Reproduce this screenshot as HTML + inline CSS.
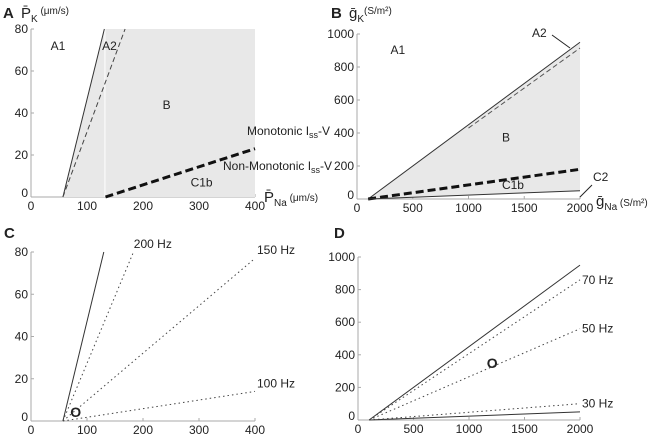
<!DOCTYPE html>
<html><head><meta charset="utf-8"><style>
body{margin:0;background:#fff;width:656px;height:435px;overflow:hidden}
svg{font-family:"Liberation Sans",Arial,sans-serif}
text{fill:#222}
</style></head><body>
<svg id="fig" width="656" height="435"></svg>
<script>
const xTicksA=[0,100,200,300,400], yTicksA=[0,20,40,60,80];
const xTicksB=[0,500,1000,1500,2000], yTicksB=[0,200,400,600,800,1000];
const aSolid=[[57,0],[131,80]], aDash=[[57,0],[168,80]], aThick=[[133,0],[400,23]];
const bUpper=[[100,0],[2000,950]], bDash=[[1000,430],[2000,915]], bThick=[[100,0],[2000,180]], bLower=[[100,0],[2000,50]];
const cSolid=[[57,0],[130,80]];
const cLabels=["200 Hz","150 Hz","100 Hz"];
const cEnds=[[183,80],[400,77],[400,14]];
const dLabels=["70 Hz","50 Hz","30 Hz"];
const dEnds=[[2000,860],[2000,560],[2000,100]];
const dSolid=[[100,0],[2000,950]], dLower=[[100,0],[2000,50]];

const NS="http://www.w3.org/2000/svg", svg=document.getElementById('fig');
function el(tag,attrs,parent,txt){const e=document.createElementNS(NS,tag);for(const k in attrs)e.setAttribute(k,attrs[k]);if(txt!==undefined)e.textContent=txt;(parent||svg).appendChild(e);return e;}
function panel(name,px0,px1,py0,py1,xmax,ymax,xt,yt){
  const g=el('g',{},svg);
  
  
  const sx=v=>px0+(px1-px0)*v/xmax, sy=v=>py0-(py0-py1)*v/ymax;
  const ax=el('g',{},g);
  
  
  el('line',{x1:px0,y1:py0,x2:px1,y2:py0,stroke:'#aaa','stroke-width':1},ax);
  el('line',{x1:px0,y1:py0,x2:px0,y2:py1,stroke:'#aaa','stroke-width':1},ax);
  xt.forEach(v=>{el('line',{x1:sx(v),y1:py0,x2:sx(v),y2:py0-3,stroke:'#aaa'},ax);
    const t=el('text',{x:sx(v),y:py0+13,'text-anchor':'middle','font-size':12},ax,v);
    
    });
  yt.forEach(v=>{el('line',{x1:px0,y1:sy(v),x2:px0+3,y2:sy(v),stroke:'#aaa'},ax);
    const t=el('text',{x:px0-3,y:sy(v)+(v===0?0:4),'text-anchor':'end','font-size':12},ax,v);
    
    });
  return {g,sx,sy};
}
function line(P,pts,st,nm){const l=el('line',Object.assign({x1:P.sx(pts[0][0]),y1:P.sy(pts[0][1]),x2:P.sx(pts[1][0]),y2:P.sy(pts[1][1])},st),P.g);
  
  return l;}
function txt(P,x,y,s,nm,extra){const t=el('text',Object.assign({x:P.sx(x),y:P.sy(y),'font-size':12},extra||{}),P.g,s);
  
  return t;}

// Panel A
const A=panel('panel-a',31,255,197,29,400,80,xTicksA,yTicksA);
const fa=el('polygon',{points:[[A.sx(aSolid[0][0]),A.sy(0)],[A.sx(aSolid[1][0]),A.sy(80)],[A.sx(400),A.sy(80)],[A.sx(400),A.sy(0)]].join(' '),fill:'#e8e8e8'},A.g);


A.g.insertBefore(fa,A.g.children[1]);
line(A,[[132,0],[132,80]],{stroke:'#fff','stroke-width':1},'region-divider');
line(A,aSolid,{stroke:'#333','stroke-width':1},'a1-boundary');
line(A,aDash,{stroke:'#444','stroke-width':1,'stroke-dasharray':'5,3'},'a2-boundary');
line(A,aThick,{stroke:'#111','stroke-width':3,'stroke-dasharray':'8,4'},'monotonic-boundary');
txt(A,35,70,'A1','label-a1');txt(A,127,70,'A2','label-a2');txt(A,235,42,'B','label-b');txt(A,285,5,'C1b','label-c1b');
el('text',{x:247,y:135,'font-size':12,'text-anchor':'start'},A.g).innerHTML='Monotonic I<tspan font-size="9" dy="3">ss</tspan><tspan dy="-3">-V</tspan>';
el('text',{x:223,y:170,'font-size':12},A.g).innerHTML='Non-Monotonic I<tspan font-size="9" dy="3">ss</tspan><tspan dy="-3">-V</tspan>';
el('text',{x:3,y:18,'font-size':15,'font-weight':'bold'},svg,'A');
el('text',{x:21,y:18,'font-size':15},svg).innerHTML='P̄<tspan font-size="10" dy="4">K</tspan><tspan font-size="10" dy="-8"> (μm/s)</tspan>';
el('text',{x:264,y:202,'font-size':15},svg).innerHTML='P̄<tspan font-size="10" dy="4">Na</tspan><tspan font-size="10" dy="-5"> (μm/s)</tspan>';

// Panel B
const B=panel('panel-b',357,580,199,34,2000,1000,xTicksB,yTicksB);
const fb=el('polygon',{points:[[B.sx(100),B.sy(0)],[B.sx(2000),B.sy(950)],[B.sx(2000),B.sy(50)]].join(' '),fill:'#e8e8e8'},B.g);


B.g.insertBefore(fb,B.g.children[1]);
line(B,bUpper,{stroke:'#333','stroke-width':1},'a1-boundary');
line(B,bDash,{stroke:'#555','stroke-width':1,'stroke-dasharray':'5,3'},'a2-boundary');
line(B,bThick,{stroke:'#111','stroke-width':3,'stroke-dasharray':'8,4'},'monotonic-boundary');
line(B,bLower,{stroke:'#333','stroke-width':1},'c2-boundary');
txt(B,300,880,'A1','label-a1');txt(B,1300,350,'B','label-b');txt(B,1300,60,'C1b','label-c1b');
el('text',{x:532,y:37,'font-size':12},svg,'A2');
el('line',{x1:552,y1:35,x2:570,y2:48,stroke:'#222'},svg);
el('text',{x:593,y:181,'font-size':12},svg,'C2');
el('line',{x1:592,y1:185,x2:580,y2:197,stroke:'#222'},svg);
el('text',{x:331,y:18,'font-size':15,'font-weight':'bold'},svg,'B');
el('text',{x:349,y:18,'font-size':15},svg).innerHTML='ḡ<tspan font-size="10" dy="4">K</tspan><tspan font-size="10" dy="-8">(S/m²)</tspan>';
el('text',{x:596,y:206,'font-size':15},svg).innerHTML='ḡ<tspan font-size="10" dy="4">Na</tspan><tspan font-size="10" dy="-4"> (S/m²)</tspan>';

// Panel C
const C=panel('panel-c',31,255,421,252,400,80,xTicksA,yTicksA);
line(C,cSolid,{stroke:'#333','stroke-width':1},'boundary-line');
cEnds.forEach((e,i)=>{line(C,[[57,0],e],{stroke:'#444','stroke-width':1,'stroke-dasharray':'1.5,3'},'freq-line');
  txt(C,e[0]+(i===0?-3:0),e[1]-(i===0?-1:-1),cLabels[i],'freq-label',{dx:2,dy:-2});});
txt(C,70,2,'O','operating-point',{'font-weight':'bold','font-size':14});
el('text',{x:4,y:238,'font-size':15,'font-weight':'bold'},svg,'C');

// Panel D
const D=panel('panel-d',358,580,420,257,2000,1000,xTicksB,yTicksB);
line(D,dSolid,{stroke:'#333','stroke-width':1},'boundary-line');
line(D,dLower,{stroke:'#333','stroke-width':1},'lower-boundary-line');
dEnds.forEach((e,i)=>{line(D,[[100,0],e],{stroke:'#444','stroke-width':1,'stroke-dasharray':'1.5,3'},'freq-line');
  txt(D,e[0],e[1],dLabels[i],'freq-label',{dx:2,dy:4});});
txt(D,1160,320,'O','operating-point',{'font-weight':'bold','font-size':14});
el('text',{x:334,y:238,'font-size':15,'font-weight':'bold'},svg,'D');
</script>
</body></html>
